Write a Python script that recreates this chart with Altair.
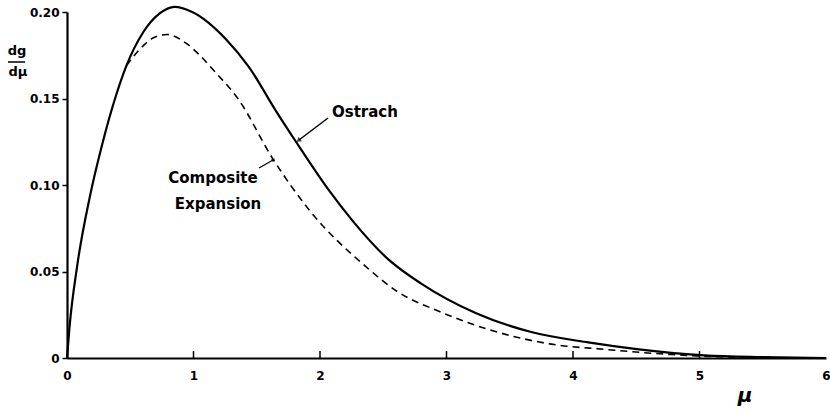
import altair as alt
import pandas as pd

# Ostrach solution
ost_mu = [0, 0.02, 0.08, 0.18, 0.28, 0.38, 0.47, 0.60, 0.73, 0.85, 0.99, 1.26, 1.44, 1.65,
          1.81, 2.07, 2.25, 2.54, 2.80, 3.23, 3.67, 4.12, 4.52, 5.04, 5.5, 6.0]
ost_val = [0, 0.018, 0.053, 0.093, 0.124, 0.150, 0.169, 0.188, 0.199, 0.203, 0.200, 0.184,
           0.168, 0.143, 0.125, 0.097, 0.080, 0.057, 0.043, 0.026, 0.015, 0.009, 0.005,
           0.0015, 0.0005, 0.0]

# Composite expansion (visible part, branches off from Ostrach curve)
comp_mu = [0.47, 0.57, 0.68, 0.79, 0.94, 1.05, 1.15, 1.36, 1.62, 1.91, 2.36, 2.62, 2.94,
           3.31, 3.83, 4.25, 4.78, 5.3, 6.0]
comp_val = [0.169, 0.178, 0.185, 0.187, 0.182, 0.175, 0.167, 0.149, 0.116, 0.086, 0.053,
            0.038, 0.027, 0.017, 0.008, 0.005, 0.002, 0.0005, 0.0]

x_ticks = [0, 1, 2, 3, 4, 5, 6]
y_ticks = [0, 0.05, 0.10, 0.15, 0.20]

FONT = "DejaVu Sans"

ost = pd.DataFrame({"mu": ost_mu, "v": ost_val})
comp = pd.DataFrame({"mu": comp_mu, "v": comp_val})

xs = alt.Scale(domain=[0, 6], nice=False, zero=True)
ys = alt.Scale(domain=[0, 0.2], nice=False, zero=True)

label_expr = "datum.value == 0 ? '0' : format(datum.value, '.2f')"

solid = alt.Chart(ost).mark_line(color="black", strokeWidth=2.2, interpolate="monotone", clip=False).encode(
    x=alt.X("mu:Q", scale=xs,
            axis=alt.Axis(values=x_ticks, format="d", title=None, grid=False, ticks=False,
                          domainColor="black", domainWidth=2.2, labelFont=FONT,
                          labelFontWeight="bold", labelFontSize=12, labelColor="black",
                          labelPadding=12, labelFlush=False, labelOverlap=False)),
    y=alt.Y("v:Q", scale=ys,
            axis=alt.Axis(values=y_ticks, title=None, grid=False, tickSize=5, tickColor="black",
                          tickWidth=1.5, domainColor="black", domainWidth=2.2, labelFont=FONT,
                          labelFontWeight="bold", labelFontSize=12, labelColor="black",
                          labelPadding=3, labelExpr=label_expr, labelFlush=False,
                          labelOverlap=False)),
)

dashed = alt.Chart(comp).mark_line(color="black", strokeWidth=1.6, strokeDash=[7, 5],
                                   interpolate="monotone", clip=False).encode(
    x=alt.X("mu:Q", scale=xs), y=alt.Y("v:Q", scale=ys))

xt = pd.DataFrame({"mu": x_ticks[1:-1]})
xticks = alt.Chart(xt).mark_rule(color="black", strokeWidth=1.5).encode(
    x=alt.X("mu:Q", scale=xs), y=alt.value(339), y2=alt.value(346))

texts = alt.layer(
    alt.Chart().mark_text(text="Ostrach", font=FONT, fontWeight="bold", fontSize=15,
                          align="left", baseline="middle").encode(x=alt.value(265), y=alt.value(100)),
    alt.Chart().mark_text(text="Composite", font=FONT, fontWeight="bold", fontSize=15,
                          align="center", baseline="middle").encode(x=alt.value(146), y=alt.value(166)),
    alt.Chart().mark_text(text="Expansion", font=FONT, fontWeight="bold", fontSize=15,
                          align="center", baseline="middle").encode(x=alt.value(151), y=alt.value(192)),
    alt.Chart().mark_text(text="μ", font=FONT, fontStyle="italic", fontWeight="bold", fontSize=20,
                          align="center", baseline="middle").encode(x=alt.value(678), y=alt.value(384)),
    alt.Chart().mark_text(text="dg", font=FONT, fontWeight="bold", fontSize=13,
                          align="center", baseline="middle").encode(x=alt.value(-50), y=alt.value(39)),
    alt.Chart().mark_rule(color="black", strokeWidth=1.5).encode(
        x=alt.value(-59), x2=alt.value(-42), y=alt.value(50)),
    alt.Chart().mark_text(text="dμ", font=FONT, fontWeight="bold", fontSize=13,
                          align="center", baseline="middle").encode(x=alt.value(-49), y=alt.value(60)),
    # arrows
    alt.Chart().mark_rule(color="black", strokeWidth=1.5).encode(
        x=alt.value(261), x2=alt.value(232), y=alt.value(106), y2=alt.value(128)),
    alt.Chart().mark_point(shape="triangle", size=30, filled=True, color="black", angle=233).encode(
        x=alt.value(232), y=alt.value(128)),
    alt.Chart().mark_rule(color="black", strokeWidth=1.2).encode(
        x=alt.value(192), x2=alt.value(206), y=alt.value(156), y2=alt.value(148)),
    alt.Chart().mark_point(shape="triangle", size=18, filled=True, color="black", angle=60).encode(
        x=alt.value(206), y=alt.value(148)),
)

chart = alt.layer(solid, dashed, xticks, texts).properties(
    width=759, height=346,
    padding={"left": 67, "top": 12, "right": 4, "bottom": 56},
    autosize=alt.AutoSizeParams(type="none"),
    background="white",
).configure_view(stroke=None)

chart.save("out.html", embed_options={"renderer": "svg", "actions": False})
